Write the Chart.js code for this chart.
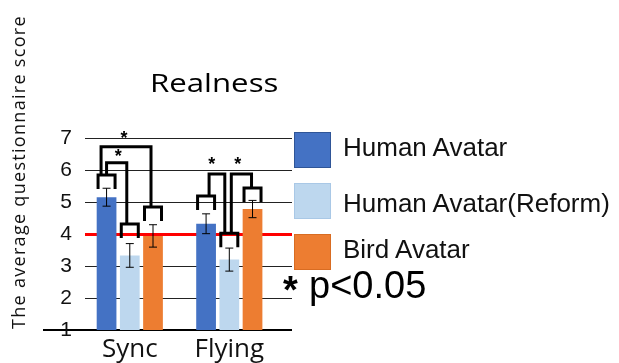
<!DOCTYPE html>
<html>
<head>
<meta charset="utf-8">
<script src="https://cdn.jsdelivr.net/npm/chart.js@4.4.1/dist/chart.umd.min.js"></script>
<style>
body { margin: 0; background: #fff; }
#wrap { position: relative; width: 619px; height: 363px; overflow: hidden; background: #fff; }
#wrap canvas { position: absolute; left: 0; top: 0; }
.t { position: absolute; white-space: nowrap; color: #000; line-height: 1; }
#titulo { left: 150px; top: 64px; font: 26px "Open Sans"; transform: scaleX(1.2); transform-origin: left top; }
#ytitle { left: 8px; top: 329px; font: 18px "Open Sans"; line-height: 20px; letter-spacing: 1.3px; transform: rotate(-90deg); transform-origin: left top; color: #111; }
.leg-box { position: absolute; left: 294px; width: 35px; height: 34px; border: 1px solid; }
.leg-txt { position: absolute; left: 343px; font: 26px "Liberation Sans"; line-height: 26px; white-space: nowrap; color: #111; }
#pstar { left: 283px; top: 269px; font: bold 38px "Liberation Sans"; }
#pnote { left: 309px; top: 264px; font: 38px "Liberation Sans"; }
</style>
</head>
<body>
<div id="wrap">
  <canvas id="grafico" width="619" height="363"></canvas>
  <div class="t" id="titulo">Realness</div>
  <div class="t" id="ytitle">The average questionnaire score</div>
  <div id="leyenda"></div>
  <div class="t" id="pstar">*</div>
  <div class="t" id="pnote">p&lt;0.05</div>
</div>
<script>
// Puntajes promedio por condición
const categories = ['Sync', 'Flying'];
const seriesNames = ['Human Avatar', 'Human Avatar(Reform)', 'Bird Avatar'];
const humanAvatar = [5.15, 4.32];
const humanReform = [3.33, 3.20];
const birdAvatar = [3.94, 4.78];
// errores (±)
const errHuman = [0.28, 0.31];
const errReform = [0.37, 0.36];
const errBird = [0.35, 0.27];
const yTicks = [1, 2, 3, 4, 5, 6, 7];
const threshold = 4;

// marcas de significancia: tope de cada "tapa" sobre la barra
const capHuman = [5.84, 5.19];
const capReform = [4.31, 4.02];
const capBird = [4.84, 5.44];
// [serie desde, serie hasta, categoría, nivel del corchete, nivel del asterisco]
const brackets = [
    [0, 2, 0, 6.73, 7.09],
    [0, 1, 0, 6.23, 6.53],
    [0, 1, 1, 5.875, 6.28],
    [1, 2, 1, 5.875, 6.28]
];

const colores = ['#4472C4', '#BDD7EE', '#ED7D31'];
const bordes = ['#2F5597', '#A9C8E6', '#D86C22'];
const series = [humanAvatar, humanReform, birdAvatar];
const errores = [errHuman, errReform, errBird];
const tapas = [capHuman, capReform, capBird];

// leyenda en HTML
const legTops = [132, 183, 234];
const txtTops = [134, 190, 236];
const leyenda = document.getElementById('leyenda');
seriesNames.forEach((n, i) => {
    const b = document.createElement('div');
    b.className = 'leg-box';
    b.style.top = legTops[i] + 'px';
    b.style.background = colores[i];
    b.style.borderColor = bordes[i];
    leyenda.appendChild(b);
    const t = document.createElement('div');
    t.className = 'leg-txt';
    t.style.top = txtTops[i] + 'px';
    t.textContent = n;
    leyenda.appendChild(t);
});

// barras de error y corchetes
const marcas = {
    id: 'marcas',
    afterDatasetsDraw(chart) {
        const ctx = chart.ctx;
        const y = chart.scales.y;
        ctx.save();
        ctx.strokeStyle = '#000';
        // error bars
        ctx.lineWidth = 1;
        series.forEach((s, d) => {
            chart.getDatasetMeta(d).data.forEach((bar, i) => {
                const hi = y.getPixelForValue(s[i] + errores[d][i]);
                const lo = y.getPixelForValue(s[i] - errores[d][i]);
                ctx.beginPath();
                ctx.moveTo(bar.x, hi); ctx.lineTo(bar.x, lo);
                ctx.moveTo(bar.x - 4, hi); ctx.lineTo(bar.x + 4, hi);
                ctx.moveTo(bar.x - 4, lo); ctx.lineTo(bar.x + 4, lo);
                ctx.stroke();
            });
        });
        // tapas
        ctx.lineWidth = 3;
        ctx.lineJoin = 'miter';
        tapas.forEach((c, d) => {
            chart.getDatasetMeta(d).data.forEach((bar, i) => {
                const top = y.getPixelForValue(c[i]);
                ctx.beginPath();
                ctx.moveTo(bar.x - 8.5, top + 14);
                ctx.lineTo(bar.x - 8.5, top);
                ctx.lineTo(bar.x + 8.5, top);
                ctx.lineTo(bar.x + 8.5, top + 14);
                ctx.stroke();
            });
        });
        // corchetes
        const legOff = [[-5.5, -2], [0, -3], [3, -4.5], [2, -1]];
        const starDx = [-2, 1.7, -5.3, -3.7];
        ctx.fillStyle = '#000';
        ctx.font = 'bold 18px "Liberation Sans"';
        ctx.textAlign = 'center';
        ctx.textBaseline = 'alphabetic';
        brackets.forEach((b, k) => {
            const [d1, d2, cat, lvl, starLvl] = b;
            const b1 = chart.getDatasetMeta(d1).data[cat];
            const b2 = chart.getDatasetMeta(d2).data[cat];
            const x1 = b1.x + legOff[k][0];
            const x2 = b2.x + legOff[k][1];
            const yl = y.getPixelForValue(lvl);
            ctx.beginPath();
            ctx.moveTo(x1, y.getPixelForValue(tapas[d1][cat]));
            ctx.lineTo(x1, yl);
            ctx.lineTo(x2, yl);
            ctx.lineTo(x2, y.getPixelForValue(tapas[d2][cat]));
            ctx.stroke();
            ctx.fillText('*', (x1 + x2) / 2 + starDx[k], y.getPixelForValue(starLvl) + 9);
        });
        ctx.restore();
    }
};

const ctx = document.getElementById('grafico').getContext('2d');
const chart = new Chart(ctx, {
    type: 'bar',
    data: {
        datasets: seriesNames.map((n, d) => ({
            label: n,
            data: series[d].map((v, i) => ({ x: i, y: v })),
            backgroundColor: colores[d],
            borderWidth: 0,
            categoryPercentage: 0.7,
            barPercentage: 0.85
        }))
    },
    options: {
        responsive: false,
        animation: false,
        devicePixelRatio: 1,
        layout: { padding: { top: 138, right: 327, bottom: 0, left: 0 } },
        plugins: {
            legend: { display: false },
            title: { display: false },
            tooltip: { enabled: false }
        },
        scales: {
            x: {
                type: 'linear',
                min: -0.45,
                max: 1.63,
                offset: false,
                grid: { display: false, offset: false },
                border: { display: false },
                afterBuildTicks: (s) => { s.ticks = categories.map((c, i) => ({ value: i })); },
                afterFit: (s) => { s.height = 33; },
                ticks: {
                    autoSkip: false,
                    maxRotation: 0,
                    padding: -4,
                    color: '#111',
                    font: { family: 'Open Sans', size: 26 },
                    callback: (v) => categories[v]
                }
            },
            y: {
                min: 1,
                max: 7,
                afterBuildTicks: (s) => { s.ticks = yTicks.map(v => ({ value: v })); },
                afterFit: (s) => { s.width = 85; },
                border: { display: false },
                grid: {
                    color: (c) => c.tick.value === threshold ? '#FF0000' : (c.tick.value === 1 ? '#000' : '#222'),
                    lineWidth: (c) => c.tick.value === threshold ? 3 : (c.tick.value === 1 ? 2 : 1),
                    tickColor: (c) => c.tick.value === 1 ? '#000' : 'rgba(0,0,0,0)',
                    tickLength: 42,
                    tickWidth: 2
                },
                ticks: {
                    padding: -29,
                    color: '#111',
                    font: { family: 'Liberation Sans', size: 21 }
                }
            }
        }
    },
    plugins: [marcas]
});
</script>
</body>
</html>
